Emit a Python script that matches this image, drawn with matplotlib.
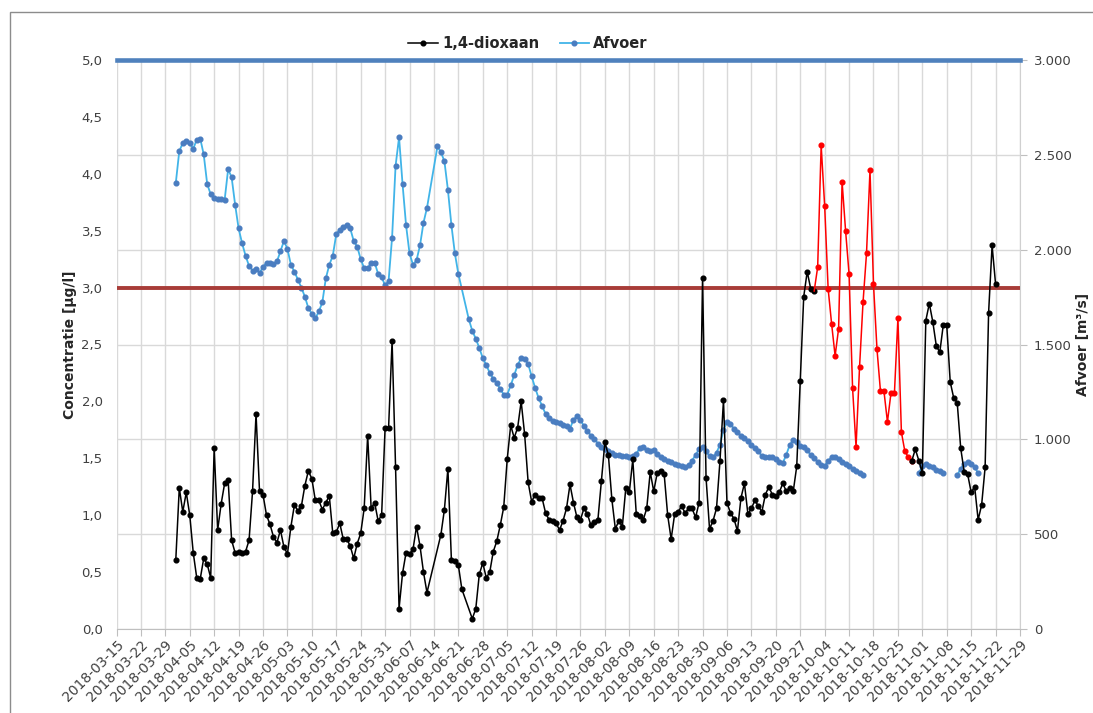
import matplotlib
matplotlib.use("Agg")
import matplotlib.pyplot as plt
import matplotlib.dates as mdates
import pandas as pd
from matplotlib.lines import Line2D
from matplotlib.patches import Rectangle
from matplotlib.ticker import FuncFormatter, MultipleLocator

# 1,4-dioxaan [ug/l], daily from start date, None = no sample (line is drawn through)
dioxaan_start = "2018-04-01"
dioxaan = [
    0.61, 1.24, 1.03, 1.20, 1.00, 0.67, 0.45, 0.44, 0.62, 0.57,
    0.45, 1.59, 0.87, 1.10, 1.28, 1.31, 0.78, 0.67, 0.68, 0.67,
    0.68, 0.78, 1.21, 1.89, 1.21, 1.18, 1.00, 0.92, 0.81, 0.76,
    0.87, 0.72, 0.66, 0.90, 1.09, 1.04, 1.08, 1.26, 1.39, 1.32,
    1.13, 1.13, 1.05, 1.11, 1.17, 0.84, 0.85, 0.93, 0.79, 0.79,
    0.73, 0.62, 0.75, 0.84, 1.06, 1.70, 1.06, 1.11, 0.95, 1.00,
    1.77, 1.77, 2.53, 1.42, 0.18, 0.49, 0.67, 0.66, 0.70, 0.90,
    0.73, 0.50, 0.32, None, None, None,
    0.83, 1.05, 1.41, 0.61, 0.60, 0.56, 0.35, None, None,
    0.09, 0.18, 0.48, 0.58, 0.45, 0.50, 0.68, 0.77, 0.91, 1.07,
    1.49, 1.79, 1.68, 1.77, 2.00, 1.71, 1.29, 1.12, 1.18, 1.15,
    1.15, 1.02, 0.96, 0.95, 0.93, 0.87, 0.95, 1.06, 1.27, 1.11,
    0.98, 0.96, 1.06, 1.01, 0.91, 0.94, 0.96, 1.30, 1.64, 1.53,
    1.14, 0.88, 0.95, 0.90, 1.24, 1.20, 1.49, 1.01, 0.99, 0.96,
    1.06, 1.38, 1.21, 1.37, 1.39, 1.36, 1.00, 0.79, 1.01, 1.03,
    1.08, 1.02, 1.06, 1.06, 0.98, 1.11, 3.08, 1.33, 0.88, 0.95,
    1.06, 1.48, 2.01, 1.11, 1.02, 0.97, 0.86, 1.15, 1.28, 1.01,
    1.06, 1.13, 1.08, 1.03, 1.18, 1.25, 1.18, 1.17, 1.20, 1.28,
    1.21, 1.24, 1.21, 1.43, 2.18, 2.92, 3.14, 2.99, 2.97,
]

# highlighted (red) stretch of 1,4-dioxaan
dioxaan_red_start = "2018-10-01"
dioxaan_red = [
    2.97, 3.18, 4.25, 3.72, 2.99, 2.68, 2.40, 2.64, 3.93, 3.50,
    3.12, 2.12, 1.60, 2.30, 2.87, 3.30, 4.03, 3.03, 2.46, 2.09,
    2.09, 1.82, 2.07, 2.07, 2.73, 1.73, 1.56, 1.51, 1.48,
]

dioxaan_late_start = "2018-10-29"
dioxaan_late = [
    1.48, 1.58, 1.48, 1.37, 2.71, 2.86, 2.70, 2.49, 2.43, 2.67,
    2.67, 2.17, 2.03, 1.99, 1.59, 1.38, 1.36, 1.20, 1.25, 0.96,
    1.09, 1.42, 2.78, 3.37, 3.03,
]

# Afvoer [m3/s], daily
afvoer_start = "2018-04-01"
afvoer = [
    2352, 2520, 2562, 2574, 2562, 2532, 2580, 2586, 2502, 2346,
    2292, 2274, 2268, 2268, 2262, 2424, 2382, 2238, 2112, 2034,
    1968, 1914, 1890, 1896, 1878, 1908, 1932, 1932, 1926, 1938,
    1992, 2046, 2004, 1920, 1884, 1842, 1800, 1752, 1692, 1662,
    1638, 1674, 1722, 1848, 1920, 1968, 2082, 2106, 2118, 2130,
    2112, 2046, 2016, 1950, 1902, 1902, 1932, 1932, 1872, 1854,
    1812, 1836, 2064, 2442, 2592, 2346, 2130, 1980, 1920, 1944,
    2022, 2142, 2220, None, None,
    2544, 2514, 2466, 2316, 2130, 1980, 1872, None, None,
    1632, 1572, 1530, 1482, 1428, 1392, 1350, 1320, 1296, 1266,
    1236, 1236, 1284, 1338, 1392, 1428, 1422, 1398, 1332, 1272,
    1218, 1176, 1134,
    1110, 1098, 1092, 1086, 1074, 1068, 1056,
    1104, 1122, 1104, 1068, 1044, 1020, 1002, 978, 960, 948,
    936, 930, 918, 918, 912, 912, 906, 912, 924, 954,
    960, 942, 936, 942, 924, 906, 894, 888, 882, 870,
    864, 858, 852, 864, 888, 918, 948, 960, 936, 912,
    906, 930, 972, 1050, 1092, 1080, 1056, 1038, 1020, 1008,
    990, 972, 954, 936,
    912, 906, 906, 906, 894, 882, 876, 918, 972, 996,
    984, 966, 960, 942, 918, 900, 882, 864, 858, 888,
    906, 906, 894, 882, 870, 858, 846, 834, 822, 810,
]
afvoer_b_start = "2018-10-31"
afvoer_b = [822, 858, 870, 858, 852, 840, 834, 822]
afvoer_c_start = "2018-11-11"
afvoer_c = [810, 846, 870, 882, 870, 852, 822]

x_start, x_end = "2018-03-15", "2018-11-29"
limit_top = 5.0
limit_norm = 3.0

BLACK = "#000000"
RED = "#FF0000"
BLUE_LINE = "#41B4E8"
BLUE_MARK = "#4A7DC0"
GRID = "#D9D9D9"
TXT = "#404040"
MS = 3.4


def daily(start, values):
    idx = pd.date_range(start, periods=len(values), freq="D")
    return pd.Series(values, index=idx, dtype=float).dropna()


fig = plt.figure(figsize=(10.93, 7.13), dpi=100)
fig.patches.append(Rectangle((10 / 1093, -0.05), 1.2, 1.05 - 12 / 713, transform=fig.transFigure,
                             fill=False, edgecolor="#8C8C8C", lw=1.0))

ax_q = fig.add_axes([116.5 / 1093, 84 / 713, 903.5 / 1093, 569 / 713])
ax_c = ax_q.twinx()
ax_q.yaxis.tick_right()
ax_q.yaxis.set_label_position("right")
ax_c.yaxis.tick_left()
ax_c.yaxis.set_label_position("left")

# Afvoer on the lower axes
for start, vals in [(afvoer_start, afvoer), (afvoer_b_start, afvoer_b), (afvoer_c_start, afvoer_c)]:
    s = daily(start, vals)
    ax_q.plot(s.index, s.values, color=BLUE_LINE, lw=1.3, marker="o", ms=MS,
              mfc=BLUE_MARK, mec=BLUE_MARK, zorder=3)

s = daily(dioxaan_start, dioxaan)
ax_c.plot(s.index, s.values, color=BLACK, lw=1.1, marker="o", ms=MS, zorder=4)
s = daily(dioxaan_red_start, dioxaan_red)
ax_c.plot(s.index, s.values, color=RED, lw=1.1, marker="o", ms=MS,
          markevery=slice(1, len(s)), zorder=4)
s = daily(dioxaan_late_start, dioxaan_late)
ax_c.plot(s.index, s.values, color=BLACK, lw=1.1, marker="o", ms=MS, zorder=4)

ax_c.axhline(limit_top, color="#4F81BD", lw=3.3, clip_on=False, zorder=5)
ax_c.axhline(limit_norm, color="#A83C38", lw=2.8, zorder=2)

ax_q.set_xlim(pd.Timestamp(x_start), pd.Timestamp(x_end))
ax_q.set_ylim(0, 3000)
ax_c.set_ylim(0, 5)

ax_q.set_xticks(pd.date_range(x_start, x_end, freq="7D"))
ax_q.xaxis.set_major_formatter(mdates.DateFormatter("%Y-%m-%d"))
ax_q.yaxis.set_major_locator(MultipleLocator(500))
ax_q.yaxis.set_major_formatter(FuncFormatter(lambda v, p: f"{int(v):,}".replace(",", ".")))
ax_c.yaxis.set_major_locator(MultipleLocator(0.5))
ax_c.yaxis.set_major_formatter(FuncFormatter(lambda v, p: f"{v:.1f}".replace(".", ",")))

ax_q.grid(True, color=GRID, lw=1.0, zorder=0)
ax_q.set_axisbelow(True)

for sp in ["top", "left"]:
    ax_q.spines[sp].set_visible(False)
ax_q.spines["bottom"].set_color("#BFBFBF")
ax_q.spines["right"].set_color("#D0D0D0")
for sp in ax_c.spines.values():
    sp.set_visible(False)

ax_q.tick_params(axis="x", length=5, color="#BFBFBF", labelsize=10, labelcolor=TXT, pad=1)
ax_q.tick_params(axis="y", length=5, color="#BFBFBF", labelsize=9.5, labelcolor=TXT, pad=5)
ax_c.tick_params(axis="y", length=0, labelsize=9.5, labelcolor=TXT, pad=10)
for lab in ax_q.get_xticklabels():
    lab.set_rotation(45)
    lab.set_ha("right")
    lab.set_rotation_mode("anchor")

ax_c.set_ylabel("Concentratie [µg/l]", fontsize=10, fontweight="bold", color="#262626", labelpad=3)
ax_q.set_ylabel("Afvoer [m³/s]", fontsize=10, fontweight="bold", color="#262626", labelpad=3)

handles = [
    Line2D([], [], color=BLACK, lw=1.1, marker="o", ms=MS),
    Line2D([], [], color=BLUE_LINE, lw=1.3, marker="o", ms=MS, mfc=BLUE_MARK, mec=BLUE_MARK),
]
fig.legend(handles, ["1,4-dioxaan", "Afvoer"], loc="center", bbox_to_anchor=(528 / 1093, 1 - 44 / 713),
           ncol=2, frameon=False, prop={"weight": "bold", "size": 10.5}, handlelength=2.0,
           handletextpad=0.3, columnspacing=1.4, labelcolor="#262626")

fig.savefig("out.png", dpi=100)
